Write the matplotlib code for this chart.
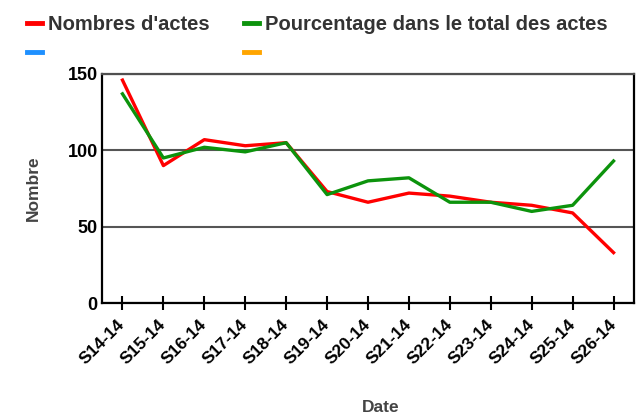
import matplotlib.pyplot as plt
from matplotlib.lines import Line2D

plt.rcParams['font.family'] = ['Liberation Sans', 'DejaVu Sans']
plt.rcParams['font.weight'] = 'bold'

semaines = ['S14-14', 'S15-14', 'S16-14', 'S17-14', 'S18-14', 'S19-14', 'S20-14',
            'S21-14', 'S22-14', 'S23-14', 'S24-14', 'S25-14', 'S26-14']
nombres_actes = [146, 90, 107, 103, 105, 73, 66, 72, 70, 66, 64, 59, 33]
pourcentage = [137, 95, 102, 99, 105, 71, 80, 82, 66, 66, 60, 64, 93]

fig = plt.figure(figsize=(6.42, 4.19), dpi=100)
ax = fig.add_axes([102 / 642, 1 - 303 / 419, 532 / 642, 229 / 419])

x = list(range(len(semaines)))
ax.plot(x, nombres_actes, color='#ff0000', lw=2.4, solid_joinstyle='round')
ax.plot(x, pourcentage, color='#0c930c', lw=2.4, solid_joinstyle='round')

ax.set_xlim(-0.5, len(semaines) - 0.5)
ax.set_ylim(0, 150)
ax.set_yticks([0, 50, 100, 150])
ax.set_xticks(x)
ax.set_xticklabels(semaines, rotation=45, ha='right', va='center',
                   rotation_mode='anchor', fontsize=12.5)
ax.tick_params(axis='x', direction='inout', length=10, width=1.5, pad=9)
ax.tick_params(axis='y', length=0, labelsize=13, pad=3)
for s in ax.spines.values():
    s.set_linewidth(1.6)
ax.spines['top'].set_color('#505050')
ax.yaxis.grid(True, color='#555555', lw=1.5)
ax.set_axisbelow(True)

ax.set_ylabel('Nombre', color='#444444', fontsize=12.5, fontweight='bold')
ax.yaxis.set_label_coords(-0.115, 0.5)
ax.set_xlabel('Date', color='#444444', fontsize=12.5, fontweight='bold')
ax.xaxis.set_label_coords(0.524, -0.424)

handles = [Line2D([], [], color='#ff0000', lw=3.5),
           Line2D([], [], color='#1e90ff', lw=3.5),
           Line2D([], [], color='#0c930c', lw=3.5),
           Line2D([], [], color='#ffa500', lw=3.5)]
labels = ["Nombres d'actes", '', 'Pourcentage dans le total des actes', '']
leg = fig.legend(handles, labels, ncol=2, loc='upper left', bbox_to_anchor=(0.032, 0.978),
                 frameon=False, fontsize=14.5, handlelength=0.75, handletextpad=0.3,
                 columnspacing=1.7, labelspacing=0.5, borderpad=0.3, borderaxespad=0)
for t in leg.get_texts():
    t.set_color('#333333')

fig.savefig('out.png', dpi=100)
